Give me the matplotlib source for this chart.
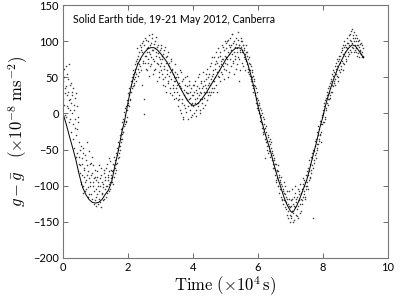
import numpy as np
import matplotlib
matplotlib.use("Agg")
import matplotlib.pyplot as plt

plt.rcParams['mathtext.fontset'] = 'cm'
plt.rcParams['font.family'] = ['Lato', 'DejaVu Sans']

# Model (theoretical) tide curve: time (x1e4 s), g - gbar (x1e-8 m s^-2)
model_t = [0.0, 0.1, 0.2, 0.3, 0.4, 0.5, 0.6, 0.7, 0.8, 0.9, 1.0, 1.1, 1.2, 1.3,
           1.4, 1.5, 1.6, 1.7, 1.8, 1.9, 2.0, 2.1, 2.2, 2.3, 2.4, 2.5, 2.6, 2.7,
           2.8, 2.9, 3.0, 3.2, 3.4, 3.6, 3.8, 3.9, 4.0, 4.1, 4.2, 4.4, 4.6, 4.8,
           5.0, 5.2, 5.3, 5.4, 5.5, 5.6, 5.7, 5.8, 5.9, 6.0, 6.1, 6.2, 6.3, 6.4,
           6.5, 6.6, 6.7, 6.8, 6.9, 7.0, 7.05, 7.1, 7.2, 7.3, 7.4, 7.5, 7.6, 7.7,
           7.8, 7.9, 8.0, 8.1, 8.2, 8.3, 8.4, 8.5, 8.6, 8.7, 8.8, 8.9, 9.0, 9.1,
           9.2, 9.25]
model_g = [0, -15, -32, -48, -65, -85, -102, -112, -119, -123, -124, -123, -119, -112,
           -106, -94, -72, -52, -28, -9, 15, 38, 55, 68, 77, 84, 89, 91,
           91, 88, 83, 71, 54, 36, 20, 14, 11, 12, 16, 28, 43, 58,
           74, 86, 90, 91, 89, 80, 66, 50, 31, 10, -8, -25, -40, -55,
           -72, -88, -102, -116, -127, -135, -137, -135, -127, -116, -104, -92, -75, -57,
           -40, -20, -4, 15, 30, 44, 56, 67, 76, 85, 91, 95, 93, 87,
           80, 77]

# Observed gravity samples (x1e-8 m s^-2); two interleaved sample streams
sample_step = 0.02  # x1e4 s between samples of one stream
stream_offset = 0.01  # x1e4 s, offset of stream B
obs_g_a = [
    45, 12, 62, 28, -5, 38, 55, 8, 30, 68, 20, -8, 42, 15, 25, -15, 35, 5, -20, 22, -30, 10, -55, -12, -70,
    -60, -82, -45, -95, -70, -100, -55, -88, -75, -108, -65, -92, -40, -102, -80, -112, -70, -95, -85, -118, -60, -100, -90, -125, -78,
    -105, -128, -88, -112, -95, -72, -118, -100, -130, -85, -110, -98, -120, -78, -105, -92, -115, -70, -100, -88, -108, -80, -95, -66, -90,
    -80, -95, -70, -88, -60, -75, -55, -70, -48, -62, -40, -55, -30, -45, -22, -35, -12, -8, -25, 2, -15, 8, -10, 18, 5,
    28, 10, 35, 18, 45, 30, 50, 38, 60, 42, 68, 50, 72, 55, 90, 62, 80, 58, 95, 65, 88, 40, 97, 70, -1,
    95, 70, 102, 80, 60, 92, 75, 108, 85, 65, 98, 78, 110, 55, 88, 72, 100, 62, 85, 45, 92, 68, 78, 58, 88,
    70, 95, 55, 80, 40, 88, 65, 50, 78, 30, 60, 85, 45, 70, 35, 58, 75, 25, 62, 40, 50, 30, 68, 45, 22,
    30, 55, 10, 42, 20, 60, 0, 35, 15, 48, -5, 25, 40, 8, 30, 52, 18, -8, 28, 40, 5, 22, 35, -2, 15,
    25, 0, 40, 15, 32, -3, 22, 50, 10, 35, 20, 5, 45, 28, 15, 38, 58, 22, 40, 12, 48, 30, 62, 25, 42,
    55, 25, 48, 70, 35, 60, 30, 78, 45, 62, 85, 40, 70, 52, 90, 60, 45, 80, 68, 95, 55, 75, 88, 62, 100,
    90, 60, 100, 75, 50, 95, 82, 105, 65, 88, 110, 72, 98, 55, 92, 80, 104, 68, 85, 112, 75, 95, 60, 88, 100,
    100, 70, 95, 78, 88, 60, 85, 72, 80, 58, 75, 55, 68, 60, 48, 58, 40, 52, 30, 45, 25, 38, 15, 30, 8,
    18, 0, 12, -10, 5, -2, -20, -5, -28, -15, -62, -20, -40, -25, -45, -32, -55, -38, -42, -60, -48, -65, -55, -75, -62,
    -65, -85, -70, -92, -78, -100, -80, -88, -110, -92, -115, -98, -120, -105, -125, -110, -130, -100, -115, -140, -118, -145, -108, -128, -150,
    -120, -145, -105, -135, -150, -115, -128, -100, -140, -118, -132, -105, -145, -112, -125, -98, -135, -105, -120, -90, -112, -100, -95, -115, -85,
    -80, -100, -75, -92, -65, -88, -60, -78, -55, -145, -50, -65, -38, -58, -35, -50, -25, -42, -18, -35, -10, -28, -40, -2, -15,
    5, -12, 15, -5, 22, 8, 30, 12, 35, 20, 42, 25, 48, 30, 55, 38, 60, 42, 65, 48, 70, 52, 75, 45, 80,
    75, 58, 85, 65, 90, 70, 95, 68, 100, 80, 92, 75, 105, 85, 98, 82, 110, 88, 100, 117, 92, 105, 85, 112, 95,
    100, 85, 105, 80, 95, 78, 102, 88, 82, 98, 78, 90, 80,
]
obs_g_b = [
    20, 50, -2, 35, 65, 10, 25, 48, -12, 18, 5, 40, -25, 30, 0, -35, 12, -48, -8, 28, -60, -22, -5, -80, -40,
    -72, -50, -98, -85, -62, -110, -48, -78, -95, -58, -105, -85, -72, -115, -52, -90, -100, -68, -112, -82, -95, -72, -108, -88, -120,
    -92, -115, -80, -125, -100, -108, -90, -122, -75, -112, -95, -102, -82, -118, -88, -100, -76, -110, -92, -85, -98, -62, -105, -85, -78,
    -88, -78, -98, -72, -82, -65, -78, -58, -68, -50, -60, -45, -50, -35, -40, -28, -20, -25, -10, -18, -2, -12, 10, -5, 15,
    12, 25, 30, 20, 38, 45, 35, 55, 48, 40, 62, 58, 45, 70, 75, 52, 85, 68, 75, 92, 60, 85, 100, 72, 20,
    80, 105, 62, 90, 85, 70, 100, 52, 95, 82, 68, 104, 88, 75, 96, 60, 90, 80, 106, 70, 83, 95, 50, 75, 65,
    90, 60, 75, 48, 82, 62, 92, 38, 70, 55, 80, 42, 65, 52, 28, 72, 48, 60, 35, 55, 20, 45, 58, 35, 50,
    40, 18, 50, 25, 5, 38, 58, 20, 45, -8, 32, 12, 50, 22, 2, 38, 28, 10, 45, 20, 30, 12, -5, 25, 40,
    10, 30, 20, 45, 5, 28, 38, 15, 55, 25, 0, 30, 42, 20, 35, 8, 30, 45, 28, 55, 35, 18, 40, 50, 30,
    40, 65, 30, 52, 78, 45, 55, 35, 68, 50, 72, 58, 30, 78, 65, 50, 85, 72, 58, 75, 92, 65, 48, 80, 70,
    78, 98, 68, 85, 102, 58, 92, 75, 95, 110, 82, 70, 100, 85, 75, 96, 62, 90, 102, 78, 95, 45, 85, 105, 92,
    85, 95, 65, 90, 75, 82, 95, 68, 85, 62, 78, 70, 52, 65, 45, 60, 50, 35, 48, 40, 28, 20, 35, 22, 12,
    5, 15, -5, 8, -12, 0, -15, -25, -8, -22, -35, -28, -18, -38, -50, -30, -45, -52, -35, -58, -40, -52, -70, -58, -75,
    -78, -70, -95, -80, -90, -72, -100, -85, -95, -105, -88, -118, -100, -108, -95, -120, -112, -132, -122, -108, -135, -125, -118, -140, -130,
    -142, -128, -118, -138, -125, -148, -110, -130, -122, -142, -115, -128, -120, -108, -138, -118, -110, -125, -98, -115, -108, -92, -118, -100, -105,
    -95, -85, -105, -80, -90, -70, -82, -72, -62, -75, -52, -68, -45, -55, -62, -42, -48, -30, -38, -22, -30, -15, -25, -5, -12,
    0, 10, -8, 18, 5, 25, 15, 20, 28, 38, 22, 35, 45, 40, 30, 52, 45, 58, 40, 62, 55, 65, 50, 72, 60,
    70, 80, 62, 88, 72, 82, 60, 92, 85, 95, 72, 98, 90, 80, 108, 95, 102, 85, 114, 98, 90, 108, 100, 88, 104,
    90, 108, 95, 84, 100, 92, 86, 96, 82, 94, 85, 78,
]
obs_t_a = np.arange(len(obs_g_a)) * sample_step
obs_t_b = np.arange(len(obs_g_b)) * sample_step + stream_offset

x_ticks = [0, 2, 4, 6, 8, 10]
y_ticks = [-200, -150, -100, -50, 0, 50, 100, 150]
title_text = "Solid Earth tide, 19-21 May 2012, Canberra"

fig = plt.figure(figsize=(4.12, 3.0), dpi=100)
ax = fig.add_axes([63/412, 42/300, 325/412, 253/300])

for tt, gg in ((obs_t_a, obs_g_a), (obs_t_b, obs_g_b)):
    ax.plot(tt, gg, linestyle='none', marker='o', markersize=1.1,
            markeredgewidth=0, color='#3a3a3a')
ax.plot(model_t, model_g, color='black', linewidth=0.7)

ax.set_xlim(0, 10)
ax.set_ylim(-200, 150)
ax.set_xticks(x_ticks)
ax.set_yticks(y_ticks)
ax.tick_params(direction='in', length=3.5, width=0.6, color='#555555',
               labelsize=8, top=True, right=True, pad=3)
for s in ax.spines.values():
    s.set_color('#777777')
    s.set_linewidth(0.8)

ax.set_xlabel(r"$\mathrm{Time}\ (\times 10^4\,\mathrm{s})$", fontsize=12, labelpad=1)
ax.set_ylabel(r"$g-\bar{g}\quad(\times 10^{-8}\ \mathrm{ms}^{-2})$", fontsize=12, labelpad=2)

ax.text(0.03, 0.965, title_text, transform=ax.transAxes, fontsize=7.6,
        ha='left', va='top')

fig.savefig("out.png", dpi=100)
